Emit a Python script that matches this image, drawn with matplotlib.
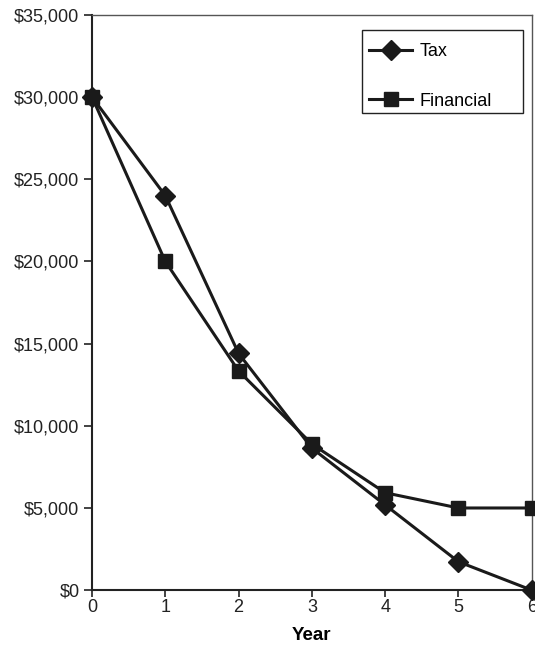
import matplotlib.pyplot as plt
from matplotlib.patches import Rectangle
from matplotlib.ticker import FuncFormatter

years = [0, 1, 2, 3, 4, 5, 6]
tax = [30000, 24000, 14400, 8640, 5184, 1728, 0]
financial = [30000, 20000, 13333, 8889, 5926, 5000, 5000]

plt.rcParams['font.family'] = ['Liberation Sans', 'DejaVu Sans']

fig = plt.figure(figsize=(5.35, 6.45), dpi=100)
ax = fig.add_axes([0.172, 0.085, 0.822, 0.892])

ax.plot(years, tax, color='#1a1a1a', lw=2.2, marker='D', ms=9.7, label='Tax', clip_on=False, zorder=3)
ax.plot(years, financial, color='#1a1a1a', lw=2.2, marker='s', ms=9.7, label='Financial', clip_on=False, zorder=3)

ax.set_xlim(0, 6)
ax.set_ylim(0, 35000)
ax.set_xticks(years)
ax.set_yticks(range(0, 35001, 5000))
ax.yaxis.set_major_formatter(FuncFormatter(lambda v, p: '${:,.0f}'.format(v)))
ax.tick_params(direction='out', width=1.2, labelsize=13, colors='#222222')
ax.tick_params(axis='y', length=6, pad=3)
ax.tick_params(axis='x', length=5, pad=1)
ax.set_xlabel('Year', fontsize=13.5, fontweight='bold', labelpad=8)

for s in ['left', 'bottom']:
    ax.spines[s].set_linewidth(1.5)
    ax.spines[s].set_color('#222222')
for s in ['top', 'right']:
    ax.spines[s].set_linewidth(1.0)
    ax.spines[s].set_color('#555555')

# legend without its own frame, box drawn separately (wider on the right like the original)
leg = ax.legend(loc='upper left', bbox_to_anchor=(0.63, 0.951), fontsize=13, frameon=False,
                labelspacing=1.8, handlelength=2.4, borderpad=0, handletextpad=0.4,
                borderaxespad=0)
ax.add_patch(Rectangle((0.614, 0.83), 0.366, 0.144, transform=ax.transAxes,
                       fill=False, edgecolor='#222222', lw=1.0, zorder=4))

plt.savefig('out.png', dpi=100)
